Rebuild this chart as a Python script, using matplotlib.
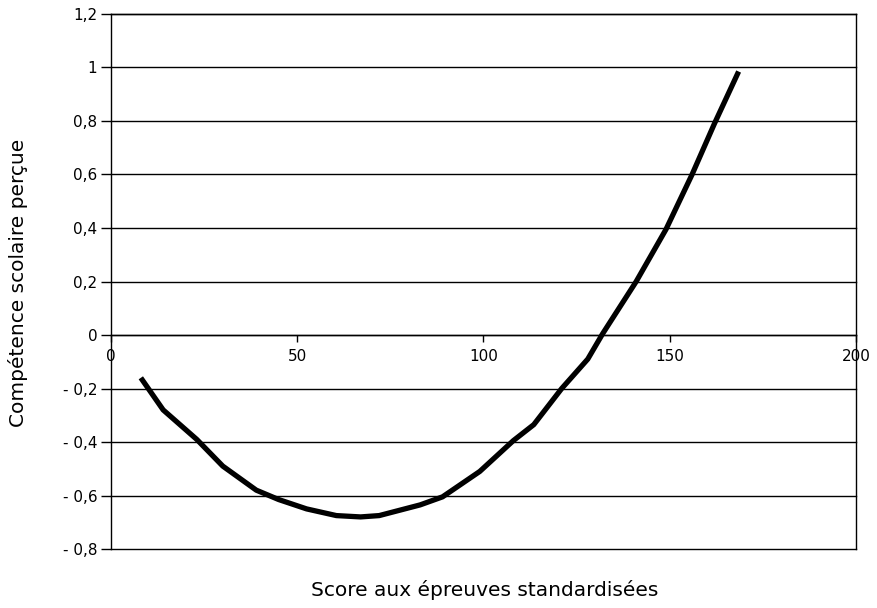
import matplotlib.pyplot as plt

# valeurs
score = [8, 14, 23, 30, 39, 45, 52.5, 60.5, 67, 72, 83, 89, 99, 108, 113.5,
         121, 128, 132, 141, 149, 156, 162, 168.5]
competence = [-0.16, -0.28, -0.39, -0.49, -0.58, -0.615, -0.65, -0.675, -0.68,
              -0.675, -0.635, -0.605, -0.51, -0.395, -0.335, -0.2, -0.09, 0.005,
              0.2, 0.395, 0.6, 0.79, 0.985]

y_ticks = [-0.8, -0.6, -0.4, -0.2, 0, 0.2, 0.4, 0.6, 0.8, 1, 1.2]
y_labels = ["- 0,8", "- 0,6", "- 0,4", "- 0,2", "0", "0,2", "0,4", "0,6", "0,8", "1", "1,2"]
x_ticks = [0, 50, 100, 150, 200]

plt.rcParams['font.family'] = ['DejaVu Sans']

fig = plt.figure(figsize=(8.77, 6.08), dpi=100)
ax = fig.add_axes([0.1266, 0.097, 0.8494, 0.880])

for v in y_ticks:
    ax.axhline(v, color='black', lw=1.0, zorder=1, clip_on=False)

ax.plot(score, competence, color='black', lw=3.8, solid_capstyle='butt', zorder=3)

ax.set_xlim(0, 200)
ax.set_ylim(-0.8, 1.2)

ax.spines['bottom'].set_position(('data', 0))
for s in ax.spines.values():
    s.set_linewidth(1.0)

ax.set_yticks(y_ticks)
ax.set_yticklabels(y_labels, fontsize=11)
ax.tick_params(axis='y', direction='out', length=7, width=1.0, pad=3)
ax.set_xticks(x_ticks)
ax.set_xticklabels([str(v) for v in x_ticks], fontsize=11)
ax.tick_params(axis='x', direction='out', length=5, width=1.0, pad=5)

fig.text(0.553, 0.03, "Score aux épreuves standardisées", ha='center', va='center', fontsize=14.5)
fig.text(0.021, 0.535, "Compétence scolaire perçue", ha='center', va='center',
         rotation=90, fontsize=14.5)

fig.savefig("out.png", dpi=100)
